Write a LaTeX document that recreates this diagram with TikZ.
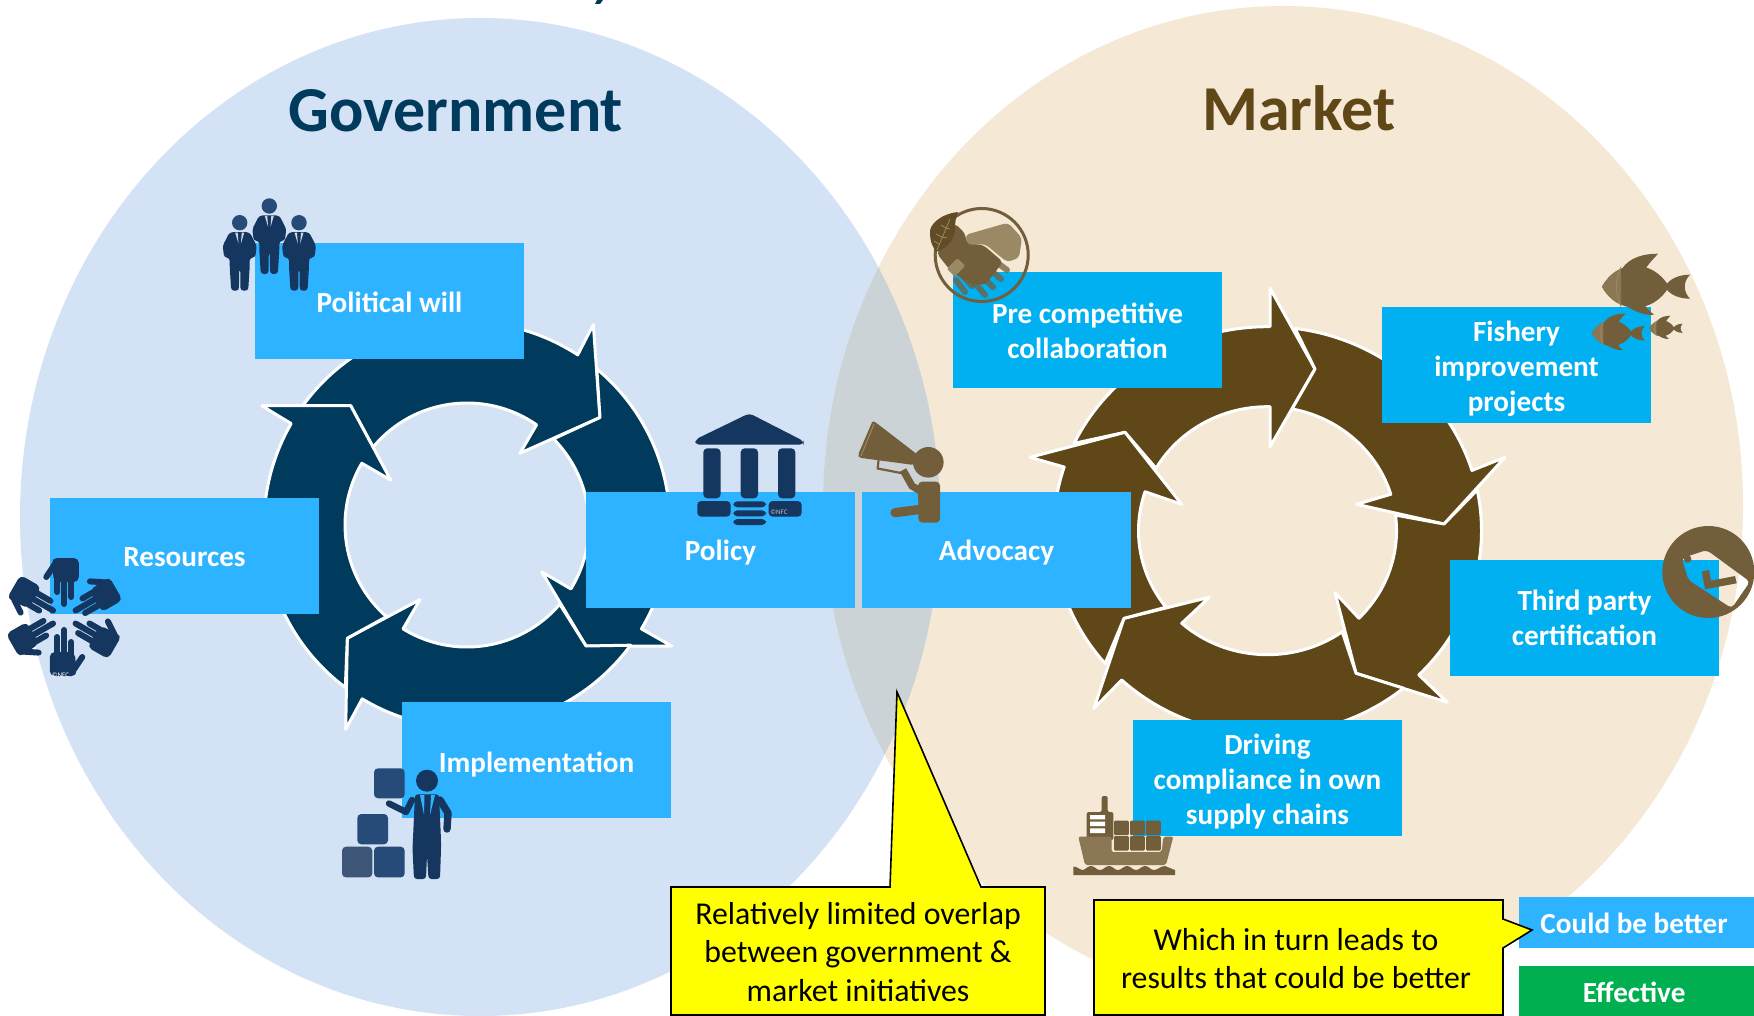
\documentclass[tikz,border=0pt]{standalone}
\usepackage{fontspec}
\setmainfont{Carlito}
\usetikzlibrary{calc}
\definecolor{govbg}{HTML}{D3E2F5}
\definecolor{mktbg}{HTML}{F5E9D6}
\definecolor{lapbg}{HTML}{CBD3D6}
\definecolor{govring}{HTML}{003A5C}
\definecolor{mktring}{HTML}{5F4717}
\definecolor{boxa}{HTML}{2DB3FF}
\definecolor{boxb}{HTML}{00B0F0}
\definecolor{effgreen}{HTML}{00B050}
\definecolor{noteyellow}{HTML}{FFFF00}
\definecolor{navy}{HTML}{14365F}
\definecolor{navyb}{HTML}{264B78}
\definecolor{navyc}{HTML}{3D5677}
\definecolor{tan}{HTML}{735E3C}
\definecolor{tanb}{HTML}{8B7753}
\definecolor{tanc}{HTML}{9B8864}
\definecolor{tand}{HTML}{614C25}
\def\angof(#1,#2)#3#4#5{\pgfmathsetmacro#5{atan2((#2-\rcy)/#4,(#1-\rcx)/#3)}}
% ring arrow: cx cy rx ry ri rj colour | Ostart Oend barb tip barb2 Istart Iend prevtip
\newcommand{\ringarrow}[8]{%
  \def\rcx{#1}\def\rcy{#2}\def\rrx{#3}\def\rry{#4}\def\rri{#5}\def\rrj{#6}%
  \def\rcol{#7}\def\rost{#8}\ringarrowb}
\newcommand{\ringarrowb}[7]{%
  \expandafter\angof\rost{\rrx}{\rry}{\aA}%
  \angof#1{\rrx}{\rry}{\aB}%
  \angof#5{\rri}{\rrj}{\aC}%
  \angof#6{\rri}{\rrj}{\aD}%
  \pgfmathsetmacro\aB{\aB<\aA?\aB+360:\aB}%
  \pgfmathsetmacro\aD{\aD>\aC?\aD-360:\aD}%
  \path[arrowline,fill=\rcol] ({\rcx+\rrx*cos(\aA)},{\rcy+\rry*sin(\aA)})
      arc[start angle=\aA,end angle=\aB,x radius=\rrx,y radius=\rry]
      -- #2 -- #3 -- #4
      -- ({\rcx+\rri*cos(\aC)},{\rcy+\rrj*sin(\aC)})
      arc[start angle=\aC,end angle=\aD,x radius=\rri,y radius=\rrj]
      -- #7 -- cycle;}
% box: name colour position textdrop text
\newcommand{\bx}[5]{%
  \node[boxnode=#2] (#1) at #3 {};
  \node[boxtext,yshift=-#4pt] (#1t) at (#1) {#5};}
\tikzset{
  arrowline/.style={draw=white,line width=1.5pt,line join=round},
  boxnode/.style={fill=#1,inner sep=0pt,minimum width=134.5pt,minimum height=58pt},
  keynode/.style={fill=#1,inner sep=0pt,minimum width=117.5pt,minimum height=25.5pt},
  boxtext/.style={inner sep=0pt,text=white,align=center,font=\bfseries\fontsize{14.6}{17.5}\selectfont},
  callout/.style={fill=noteyellow,draw=black,line width=0.8pt,line join=miter},
  calltext/.style={text=black,align=center,inner sep=0pt,font=\fontsize{15.9}{19.2}\selectfont},
  title/.style={font=\bfseries\fontsize{32}{36}\selectfont,inner sep=0pt},
  tiny mark/.style={font=\fontsize{3.5}{4}\selectfont,inner sep=0pt},
  person/.pic={
    \fill[navyb] (0,0) circle (7.7);
    \fill[navy,rounded corners=1.5] (-10,9.5)--(10,9.5)--(17,23)--(15.5,35)--(10,35)--(10,44)--(8.5,68)--(0.8,68)--(0.5,46)--(-0.5,46)--(-0.8,68)--(-8.5,68)--(-10,44)--(-10,35)--(-15.5,35)--(-17,23)--cycle;
    \fill[white,opacity=.8] (-4.5,10)--(-2,10)--(-1.2,21)--cycle (4.5,10)--(2,10)--(1.2,21)--cycle;
  },
  hand/.pic={
    \fill[navy,rounded corners=2.5] (-12.5,-59)--(14.5,-59)--(14.5,-35)--(-10.5,-35)--cycle;
    \draw[navy,line width=3pt,line cap=round] (-10,-52)--(-18,-40);
    \draw[navy,line width=3pt,line cap=round] (-7,-37)--(-7,-25) (0,-37)--(0,-13) (7,-37)--(7,-20);
  },
  fish/.pic={
    \fill[tan] (30,0) .. controls (34,-8) and (44,-12) .. (55,-12) .. controls (48,-5) and (48,5) .. (55,12) .. controls (44,12) and (34,8) .. (30,0) -- cycle;
    \fill[tan] (-13,-18) .. controls (-5,-30) and (10,-33) .. (23,-33) .. controls (17,-26) and (12,-22) .. (10,-16) -- cycle;
    \fill[tan] (-10,18) .. controls (0,26) and (12,29) .. (19,28) .. controls (14,24) and (10,20) .. (8,16) -- cycle;
    \fill[tan] (-33,0) .. controls (-18,-28) and (18,-28) .. (34,0) .. controls (18,28) and (-18,28) .. (-33,0) -- cycle;
    \begin{scope}
      \clip (-33,-25) rectangle (-14,25);
      \fill[tanb] (-33,0) .. controls (-18,-28) and (18,-28) .. (34,0) .. controls (18,28) and (-18,28) .. (-33,0) -- cycle;
    \end{scope}
    \draw[tanc,line width=.4pt] (-14,-20) .. controls (-20,-8) and (-20,8) .. (-14,20);
  },
}
\begin{document}
\begin{tikzpicture}[x=0.5pt,y=-0.5pt]
\useasboundingbox (0,0) rectangle (1754,1016);
\fill[white] (0,0) rectangle (1754,1016);
% background circles
\fill[govbg] (480,517) ellipse [x radius=460,y radius=499];
\fill[mktbg] (1283,505) ellipse [x radius=460,y radius=499];
\begin{scope}
  \clip (1283,505) ellipse [x radius=460,y radius=499];
  \fill[lapbg] (480,517) ellipse [x radius=460,y radius=499];
\end{scope}
\fill[govring] (595,4)--(600,4)--(603,0)--(597,0)--cycle;
% titles
\node[title,text=govring] (tgov) at (456,111) {Government};
\node[title,text=mktring] (tmkt) at (1299,108) {Market};
% government ring arrows
\def\gx{467}\def\gy{525}
\ringarrow{\gx}{\gy}{203}{203}{122}{122}{govring}{(301.7,405.7)}{(578.3,354)}{(593.3,324.6)}{(600,417.5)}{(520,453.2)}{(536.7,424.6)}{(374,447.9)}{(350.7,405.7)}
\ringarrow{\gx}{\gy}{203}{203}{122}{122}{govring}{(598,367.5)}{(643.3,630)}{(671.7,646)}{(586,646)}{(541.7,571.8)}{(571,589)}{(553.3,439)}{(600,417.5)}
\ringarrow{\gx}{\gy}{203}{203}{122}{122}{govring}{(631.7,646)}{(361.7,699.6)}{(345.7,729.3)}{(347.3,638.2)}{(420,599.6)}{(402.3,630)}{(560.7,605)}{(586,646)}
\ringarrow{\gx}{\gy}{203}{203}{122}{122}{govring}{(345.7,687)}{(290,422.9)}{(261.7,405.7)}{(350.7,405.7)}{(390.7,480)}{(361.7,463.2)}{(386.7,616.4)}{(347.3,638.2)}
% market ring arrows
\def\mx{1267.5}\def\my{530.7}
\ringarrow{\mx}{\my}{214}{204}{129}{124}{mktring}{(1074,443.3)}{(1270,326.7)}{(1270,288.3)}{(1315,369)}{(1270,446.7)}{(1270,406.7)}{(1156,468.3)}{(1125,432.3)}
\ringarrow{\mx}{\my}{214}{204}{129}{124}{mktring}{(1295,328.3)}{(1473.3,470)}{(1505,457.3)}{(1444,524)}{(1356.7,504.3)}{(1390.7,494.3)}{(1291.7,410.7)}{(1315,369)}
\ringarrow{\mx}{\my}{214}{204}{129}{124}{mktring}{(1477.3,490)}{(1420,676)}{(1447.3,702.3)}{(1356,673.3)}{(1335,592.7)}{(1359,618.3)}{(1396,515)}{(1444,524)}
\ringarrow{\mx}{\my}{214}{204}{129}{124}{mktring}{(1405,690)}{(1121.7,680)}{(1094,708.3)}{(1124,618.3)}{(1209.3,597.3)}{(1181.7,623.3)}{(1343.3,633.3)}{(1356,673.3)}
\ringarrow{\mx}{\my}{214}{204}{129}{124}{mktring}{(1107.3,661.7)}{(1065,467.3)}{(1030,457.3)}{(1125,432.3)}{(1181.7,504.3)}{(1145,491.7)}{(1166.7,606.7)}{(1124,618.3)}
% boxes
\bx{will}{boxa}{(389.5,300.5)}{1.1}{Political will}
\bx{res}{boxa}{(184.5,555.5)}{1}{Resources}
\bx{pol}{boxa}{(720.5,549.5)}{1.7}{Policy}
\bx{adv}{boxa}{(996.5,549.5)}{1.7}{Advocacy}
\bx{imp}{boxa}{(536.5,760)}{2.2}{Implementation}
\bx{pre}{boxb}{(1087.5,330)}{0.5}{Pre competitive\\collaboration}
\bx{fip}{boxb}{(1516.5,365)}{1.7}{Fishery\\improvement\\projects}
\bx{tpc}{boxb}{(1584.5,618)}{0}{Third party\\certification}
\bx{drv}{boxb}{(1267.5,778)}{1.7}{Driving\\compliance in own\\supply chains}
\node[keynode=boxa] (could) at (1636.5,922) {};
\node[boxtext,xshift=-1.2pt,yshift=-.5pt] (couldt) at (could) {Could be better};
\node[keynode=effgreen] (eff) at (1636.5,991) {};
\node[boxtext,xshift=-1.2pt,yshift=-.7pt] (efft) at (eff) {Effective};
% people
\pic at (239.7,222.7) {person};
\pic at (269.3,206) {person};
\pic at (299,222.7) {person};
% hands
\begin{scope}[shift={(64.3,617)},xscale=.95,yscale=1.05]
\foreach \r in {0,60,120,180,240,300}{\pic[rotate=\r] at (0,0) {hand};}
\end{scope}
\node[tiny mark,text=white] (nfca) at (60.5,675) {©NFC};
% bank
\fill[navy,rounded corners=2] (749.3,413.3)--(803.5,441)--(803.5,444.7)--(695.3,444.7)--(695.3,439.5)--cycle;
\foreach \cx in {703.3,740.7,778}{\fill[navy,rounded corners=2] (\cx,448.3) rectangle ++(17.3,50);}
\fill[navy,rounded corners=2] (697.3,501) rectangle ++(33.3,15.7) (733.3,501.3) rectangle ++(32.7,6) (733.3,510.3) rectangle ++(32.7,6) (733.3,519) rectangle ++(32.7,6) (768.7,501) rectangle ++(33,15.7);
\node[tiny mark,text=white,opacity=.7] (nfcb) at (779,512.3) {©NFC};
% megaphone man
\fill[tan,rounded corners=1] (872.7,420.7)--(876,422.7)--(918,455)--(914,465)--(859,457.7)--(858,455)--cycle;
\draw[tanc,line width=.5pt] (874,424)--(861,456);
\draw[tan,line width=1.1pt] (878.5,460)--(877.7,468.5)--(901,473);
\fill[tan] (928.3,462.3) circle (15.3);
\fill[tan,rounded corners=2] (918,481.7)--(940,481.7)--(940,522.7)--(918.5,522.7)--cycle;
\draw[tan,line width=3.6pt] (903,470)--(912,486)--(922,492);
\draw[tan,line width=4.6pt,line cap=round,line join=round] (934,488)--(923,509)--(895,512.7);
% implementation man
\fill[navyb,rounded corners=2] (374,768.3) rectangle ++(30.7,30);
\fill[navyb,rounded corners=2] (357.3,814) rectangle ++(30.7,30.3);
\fill[navyc,rounded corners=2] (342,846.7) rectangle ++(30.3,30.7);
\fill[navyb,rounded corners=2] (374,846.7) rectangle ++(30.7,30.7);
\fill[navy] (427,780.7) circle (11);
\draw[navy,line width=3.2pt,line cap=round,line join=round] (389,803.5)--(406,812)--(412,800);
\draw[navy,line width=3.7pt,line cap=round,line join=round] (440,800)--(448,813)--(447,829);
\fill[navy,rounded corners=1.5] (415,794.3)--(439,794.3)--(441,840)--(441,849)--(440,879)--(428.5,879)--(427,855)--(426,879)--(414,879)--(412.5,849)--cycle;
\fill[boxa] (420,795)--(424.5,795)--(424,815)--cycle (431,795)--(435,795)--(430,815)--cycle;
% handshake
\draw[tan,line width=1.5pt] (981.7,255) circle (46.5);
\fill[tan,rounded corners=2] (955,223.3)--(965,233.3)--(966.7,243.3)--(983.3,245)--(1003,262)--(985,285)--(968,283)--(950,270)--(936.7,253.3)--cycle;
\begin{scope}[opacity=.75]
\draw[tan,line width=3pt,line cap=round] (988,256)--(1007,270) (982,263)--(1001,279) (975,270)--(993,287) (968,275)--(985,295);
\draw[tan,line width=3pt,line cap=round] (962,275)--(972,286) (956,280)--(965,292);
\end{scope}
\fill[tanc,rotate around={45:(956,268)},rounded corners=1] (949,262) rectangle ++(15,11);
\fill[tanc,rounded corners=2] (965,235)--(1008,222.7)--(1022,238)--(1019,258)--(1007,262)--(985,244)--(968,245)--cycle;
\fill[tand] (958,212) .. controls (940,214) and (929,225) .. (930,233) .. controls (930,242) and (933,248) .. (936.7,251.7) .. controls (948,248) and (955,238) .. (955,228) .. controls (955,222) and (956,217) .. (958,212) -- cycle;
\draw[tanc,line width=.4pt] (950,219)--(937,250) (946,228)--(941,225) (946,228)--(950,229) (942,237)--(936,234) (942,237)--(947,238) (939,244)--(934,241);
% fish
\pic at (1635,286.7) {fish};
\pic[scale=.6] at (1611.7,333.3) {fish};
\pic[scale=.38] at (1661.7,328.3) {fish};
% tag
\fill[tan,even odd rule] (1708.3,572) circle (46)
  [rounded corners=2] (1681.7,558.3)--(1706.7,550)--(1750,581.7)--(1731.7,608.3)--(1688.3,580)--cycle;
\fill[tan] (1687.7,559) circle (3.7);
\fill[tan] (1701.7,571.7)--(1709,570)--(1711,580.7)--(1735,576)--(1736.7,583.3)--(1705,589.3)--cycle;
% ship
\fill[tan,rounded corners=1] (1101.7,796)--(1107.7,796)--(1107.7,812)--(1113.3,812)--(1113.3,840)--(1086.7,840)--(1086.7,812)--(1101.7,812)--cycle;
\fill[white] (1090,815) rectangle (1105,819.3) (1090,821.7) rectangle (1105,826) (1090,828.3) rectangle (1105,833);
\fill[tanb,rounded corners=1] (1078.3,836.7)--(1111.7,836.7)--(1111.7,852)--(1161.7,852)--(1163.3,836.7)--(1173.3,836.7)--(1166,865)--(1085,865)--cycle;
\foreach \sx in {1114,1130,1146}{\foreach \sy in {820.7,836}{\fill[tan,rounded corners=.6] (\sx,\sy) rectangle ++(14.8,14.5);}}
\fill[tan] (1073.3,866.7) .. controls (1078,866) and (1078,870) .. (1082,870) .. controls (1086,870) and (1087,866) .. (1091,866) .. controls (1095,866) and (1096,870) .. (1100,870) .. controls (1104,870) and (1105,866) .. (1109,866) .. controls (1113,866) and (1114,870) .. (1118,870) .. controls (1122,870) and (1123,866) .. (1127,866) .. controls (1131,866) and (1132,870) .. (1136,870) .. controls (1140,870) and (1141,866) .. (1145,866) .. controls (1149,866) and (1150,870) .. (1154,870) .. controls (1158,870) and (1160,866) .. (1165,866) -- (1175,870) -- (1175,875) -- (1073.3,875) -- cycle;
% callouts
\draw[callout] (671,887)--(890,887)--(897,692)--(981,887)--(1045,887)--(1045,1015)--(671,1015)--cycle;
\node[calltext] (c1) at (858,952) {Relatively limited overlap\\between government \&\\market initiatives};
\draw[callout] (1094,900)--(1503,900)--(1503,919)--(1532,930)--(1503,948)--(1503,1015)--(1094,1015)--cycle;
\node[calltext] (c2) at (1296,958.5) {Which in turn leads to\\results that could be better};
\end{tikzpicture}
\end{document}
